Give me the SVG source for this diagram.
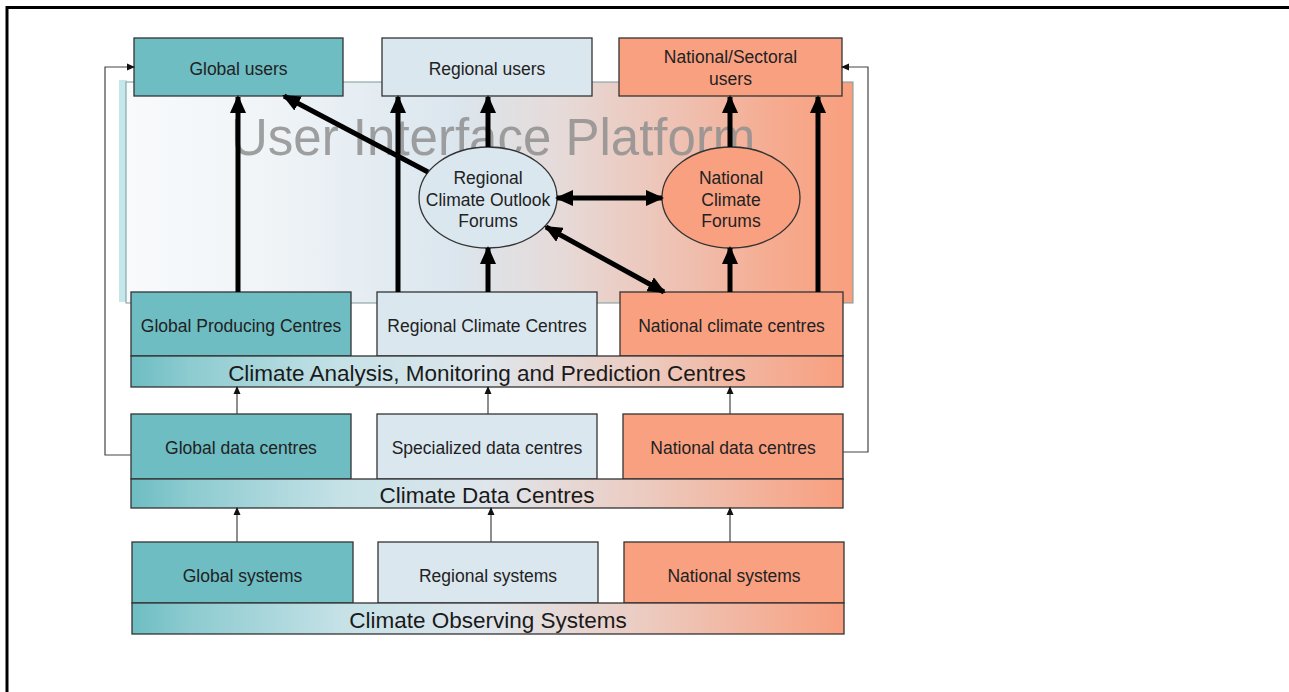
<svg xmlns="http://www.w3.org/2000/svg" width="1289" height="692" viewBox="0 0 1289 692">
<defs>
<style>
.lbl{font-family:"Liberation Sans",Arial,sans-serif;font-size:17.5px;fill:#222;text-anchor:middle}
.bar{font-family:"Liberation Sans",Arial,sans-serif;font-size:22.5px;fill:#1a1a1a;text-anchor:middle}
.big{font-family:"Liberation Sans",Arial,sans-serif;font-size:51px;fill:#8f8f8f;fill-opacity:0.85;text-anchor:start}
.g{fill:#6dbdc2;stroke:#333;stroke-width:1.3}
.r{fill:#dbe7ef;stroke:#333;stroke-width:1.3}
.n{fill:#f9a081;stroke:#333;stroke-width:1.3}
.b{fill:url(#barGrad);stroke:#333;stroke-width:1.3}
.thick{stroke:#000;stroke-width:5;fill:none}
.thin{stroke:#444;stroke-width:1.2;fill:none}
</style>
<linearGradient id="barGrad" x1="0" y1="0" x2="1" y2="0">
<stop offset="0" stop-color="#6dbdc2"/>
<stop offset="0.08" stop-color="#8ccbd0"/>
<stop offset="0.3" stop-color="#c6e2e7"/>
<stop offset="0.5" stop-color="#dfe6ec"/>
<stop offset="0.72" stop-color="#eccbc0"/>
<stop offset="1" stop-color="#f89f7f"/>
</linearGradient>
<linearGradient id="platGrad" x1="0" y1="0" x2="1" y2="0">
<stop offset="0" stop-color="#f8fafc"/>
<stop offset="0.2" stop-color="#f0f4f7"/>
<stop offset="0.45" stop-color="#dbe6ee"/>
<stop offset="0.6" stop-color="#e6dad8"/>
<stop offset="0.75" stop-color="#eec3b5"/>
<stop offset="0.9" stop-color="#f6aa8e"/>
<stop offset="1" stop-color="#f89f7f"/>
</linearGradient>
<marker id="ah" markerUnits="userSpaceOnUse" markerWidth="18" markerHeight="16" refX="16" refY="8" orient="auto-start-reverse">
<path d="M0,0 L18,8 L0,16 Z" fill="#000"/>
</marker>
<marker id="sh" markerUnits="userSpaceOnUse" markerWidth="8" markerHeight="8" refX="7" refY="4" orient="auto">
<path d="M0,0.5 L8,4 L0,7.5 Z" fill="#111"/>
</marker>
</defs>
<rect width="1289" height="692" fill="#fff"/>
<path d="M7,692 V7.5 H1289" fill="none" stroke="#000" stroke-width="3"/>

<g id="platform">
<rect x="119" y="80" width="8" height="222" fill="#c4e7eb"/>
<rect x="126" y="82" width="727" height="221" fill="url(#platGrad)" stroke="#7a9a9c" stroke-width="1"/>
<text class="big" x="231" y="155">User Interface Platform</text>
</g>

<g id="global-users"><rect class="g" x="134" y="38" width="209" height="58"/><text class="lbl" x="238.5" y="75">Global users</text></g>
<g id="regional-users"><rect class="r" x="382" y="38" width="210" height="58"/><text class="lbl" x="487" y="75">Regional users</text></g>
<g id="national-users"><rect class="n" x="619" y="38" width="223" height="58"/><text class="lbl" x="730.5" y="63">National/Sectoral</text><text class="lbl" x="730.5" y="85">users</text></g>

<g id="rcof"><ellipse cx="488" cy="197.5" rx="69" ry="50.5" fill="#dbe7ef" stroke="#333" stroke-width="1.3"/><text class="lbl" x="488" y="184">Regional</text><text class="lbl" x="488" y="206">Climate Outlook</text><text class="lbl" x="488" y="227">Forums</text></g>
<g id="ncf"><ellipse cx="731" cy="197.5" rx="69" ry="50.5" fill="#f9a081" stroke="#333" stroke-width="1.3"/><text class="lbl" x="731" y="184">National</text><text class="lbl" x="731" y="206">Climate</text><text class="lbl" x="731" y="227">Forums</text></g>

<g id="gpc"><rect class="g" x="131" y="292" width="220" height="64"/><text class="lbl" x="241" y="332">Global Producing Centres</text></g>
<g id="rcc"><rect class="r" x="377" y="292" width="220" height="64"/><text class="lbl" x="487" y="332">Regional Climate Centres</text></g>
<g id="ncc"><rect class="n" x="620" y="292" width="223" height="64"/><text class="lbl" x="731.5" y="332">National climate centres</text></g>
<g id="camp"><rect class="b" x="131" y="356" width="712" height="31"/><text class="bar" x="487" y="381">Climate Analysis, Monitoring and Prediction Centres</text></g>

<g id="gdc"><rect class="g" x="131" y="414" width="220" height="65"/><text class="lbl" x="241" y="454">Global data centres</text></g>
<g id="sdc"><rect class="r" x="377" y="414" width="220" height="65"/><text class="lbl" x="487" y="454">Specialized data centres</text></g>
<g id="ndc"><rect class="n" x="623" y="414" width="220" height="65"/><text class="lbl" x="733" y="454">National data centres</text></g>
<g id="cdc"><rect class="b" x="131" y="479" width="712" height="29"/><text class="bar" x="487" y="503">Climate Data Centres</text></g>

<g id="gs"><rect class="g" x="132" y="542" width="221" height="61"/><text class="lbl" x="242.5" y="582">Global systems</text></g>
<g id="rs"><rect class="r" x="378" y="542" width="220" height="61"/><text class="lbl" x="488" y="582">Regional systems</text></g>
<g id="ns"><rect class="n" x="624" y="542" width="220" height="61"/><text class="lbl" x="734" y="582">National systems</text></g>
<g id="cos"><rect class="b" x="132" y="603" width="712" height="31"/><text class="bar" x="488" y="628">Climate Observing Systems</text></g>

<g id="connectors">
<line class="thick" x1="238" y1="292" x2="238" y2="97" marker-end="url(#ah)"/>
<line class="thick" x1="398" y1="292" x2="398" y2="97" marker-end="url(#ah)"/>
<line class="thick" x1="488" y1="292" x2="488" y2="248" marker-end="url(#ah)"/>
<line class="thick" x1="488" y1="147" x2="488" y2="97" marker-end="url(#ah)"/>
<line class="thick" x1="428" y1="172" x2="284" y2="96" marker-end="url(#ah)"/>
<line class="thick" x1="557" y1="198" x2="662" y2="198" marker-start="url(#ah)" marker-end="url(#ah)"/>
<line class="thick" x1="546" y1="227" x2="664" y2="292" marker-start="url(#ah)" marker-end="url(#ah)"/>
<line class="thick" x1="730" y1="292" x2="730" y2="248" marker-end="url(#ah)"/>
<line class="thick" x1="730" y1="147" x2="730" y2="97" marker-end="url(#ah)"/>
<line class="thick" x1="818" y1="292" x2="818" y2="97" marker-end="url(#ah)"/>

<line class="thin" x1="237" y1="414" x2="237" y2="387" marker-end="url(#sh)"/>
<line class="thin" x1="488" y1="414" x2="488" y2="387" marker-end="url(#sh)"/>
<line class="thin" x1="730" y1="414" x2="730" y2="387" marker-end="url(#sh)"/>
<line class="thin" x1="237" y1="542" x2="237" y2="508" marker-end="url(#sh)"/>
<line class="thin" x1="491" y1="542" x2="491" y2="508" marker-end="url(#sh)"/>
<line class="thin" x1="730" y1="542" x2="730" y2="508" marker-end="url(#sh)"/>

<path class="thin" d="M131,455 H105 V67 H134" marker-end="url(#sh)"/>
<path class="thin" d="M843,452 H868 V67 H842" marker-end="url(#sh)"/>
</g>
</svg>
